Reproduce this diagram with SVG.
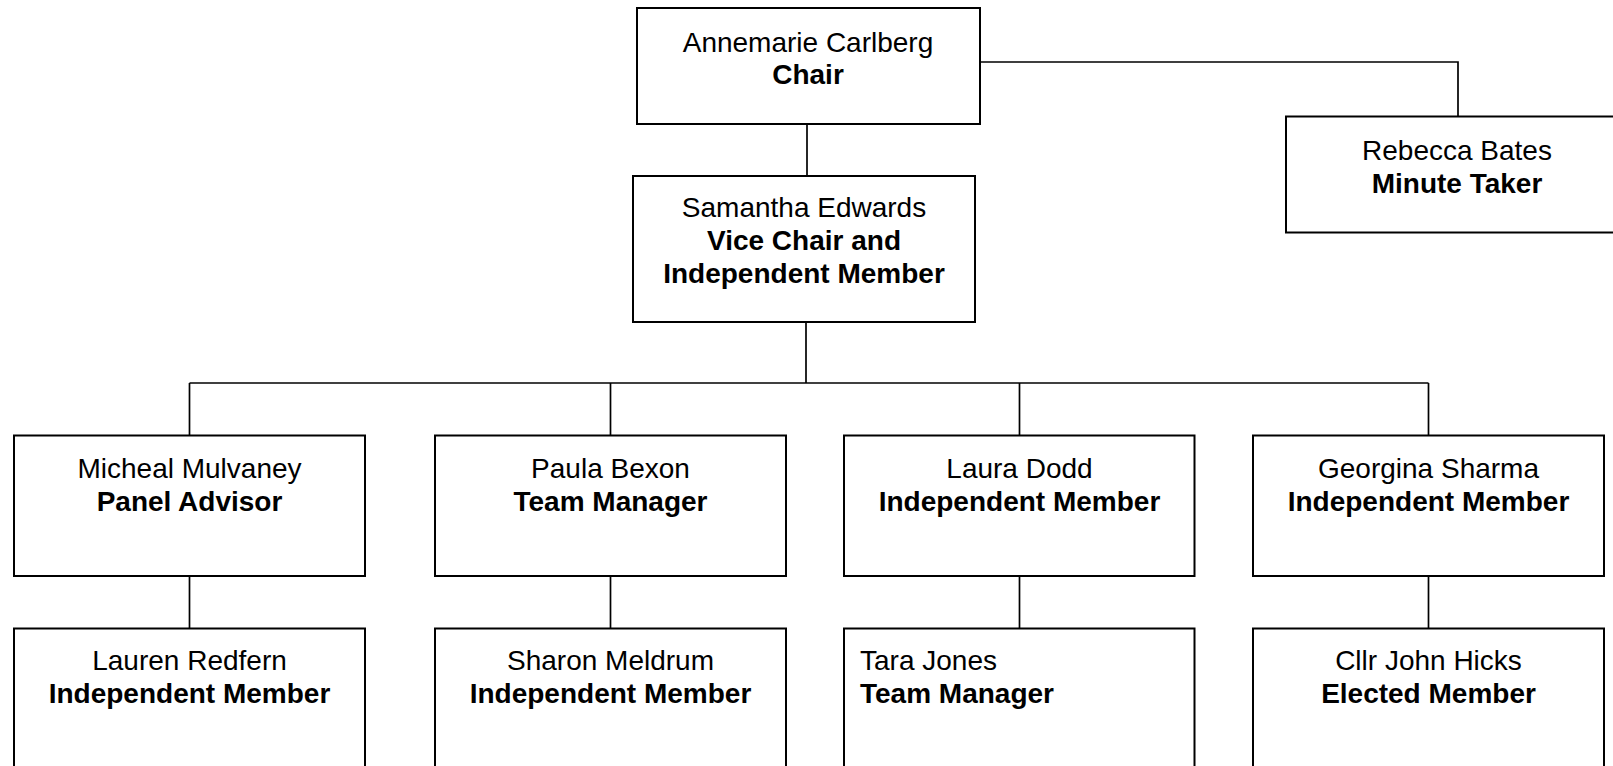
<svg xmlns="http://www.w3.org/2000/svg" width="1613" height="766" viewBox="0 0 1613 766">
<style>
.box{fill:#fff;stroke:#000;stroke-width:2}
.ln{fill:none;stroke:#000;stroke-width:1.7}
text{font-family:"Liberation Sans",Arial,sans-serif;font-size:28px;fill:#000;text-anchor:middle}
.b{font-weight:bold}
.l{text-anchor:start}
</style>
<rect width="1613" height="766" fill="#fff"/>
<g id="connectors">
<path class="ln" d="M807,124 V176"/>
<path class="ln" d="M980,62 H1458 V116.5"/>
<path class="ln" d="M806,322 V383"/>
<path class="ln" d="M189.5,383 H1428.5"/>
<path class="ln" d="M189.5,383 V435.5 M610.5,383 V435.5 M1019.5,383 V435.5 M1428.5,383 V435.5"/>
<path class="ln" d="M189.5,576 V628.5 M610.5,576 V628.5 M1019.5,576 V628.5 M1428.5,576 V628.5"/>
</g>
<g id="chair">
<rect class="box" x="637" y="8" width="343" height="116"/>
<text x="808" y="52">Annemarie Carlberg</text>
<text class="b" x="808" y="84">Chair</text>
</g>
<g id="minute-taker">
<rect class="box" x="1286" y="116.5" width="342" height="116"/>
<text x="1457" y="160">Rebecca Bates</text>
<text class="b" x="1457" y="193">Minute Taker</text>
</g>
<g id="vice-chair">
<rect class="box" x="633" y="176" width="342" height="146"/>
<text x="804" y="217">Samantha Edwards</text>
<text class="b" x="804" y="250">Vice Chair and</text>
<text class="b" x="804" y="283">Independent Member</text>
</g>
<g id="panel-advisor">
<rect class="box" x="14" y="435.5" width="351" height="140.5"/>
<text x="189.5" y="478">Micheal Mulvaney</text>
<text class="b" x="189.5" y="511">Panel Advisor</text>
</g>
<g id="team-manager-1">
<rect class="box" x="435" y="435.5" width="351" height="140.5"/>
<text x="610.5" y="478">Paula Bexon</text>
<text class="b" x="610.5" y="511">Team Manager</text>
</g>
<g id="independent-1">
<rect class="box" x="844" y="435.5" width="350.5" height="140.5"/>
<text x="1019.5" y="478">Laura Dodd</text>
<text class="b" x="1019.5" y="511">Independent Member</text>
</g>
<g id="independent-2">
<rect class="box" x="1253" y="435.5" width="351" height="140.5"/>
<text x="1428.5" y="478">Georgina Sharma</text>
<text class="b" x="1428.5" y="511">Independent Member</text>
</g>
<g id="independent-3">
<rect class="box" x="14" y="628.5" width="351" height="145"/>
<text x="189.5" y="670">Lauren Redfern</text>
<text class="b" x="189.5" y="703">Independent Member</text>
</g>
<g id="independent-4">
<rect class="box" x="435" y="628.5" width="351" height="145"/>
<text x="610.5" y="670">Sharon Meldrum</text>
<text class="b" x="610.5" y="703">Independent Member</text>
</g>
<g id="team-manager-2">
<rect class="box" x="844" y="628.5" width="350.5" height="145"/>
<text class="l" x="860" y="670">Tara Jones</text>
<text class="b l" x="860" y="703">Team Manager</text>
</g>
<g id="elected-member">
<rect class="box" x="1253" y="628.5" width="351" height="145"/>
<text x="1428.5" y="670">Cllr John Hicks</text>
<text class="b" x="1428.5" y="703">Elected Member</text>
</g>
</svg>
